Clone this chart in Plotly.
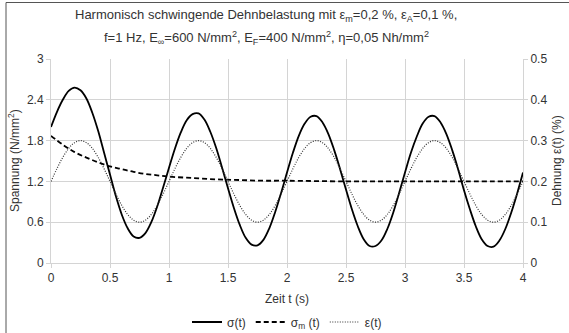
import plotly.graph_objects as go

# time axis (s), 0.05 s steps
t = [round(i * 0.05, 2) for i in range(81)]

# sigma(t) in N/mm^2
sigma = [2.00, 2.22, 2.40, 2.53, 2.58, 2.54, 2.42, 2.21, 1.94, 1.62,
         1.30, 0.98, 0.71, 0.51, 0.39, 0.37, 0.44, 0.60, 0.83, 1.11,
         1.40, 1.68, 1.92, 2.10, 2.19, 2.20, 2.11, 1.93, 1.69, 1.40,
         1.10, 0.81, 0.56, 0.37, 0.27, 0.26, 0.34, 0.51, 0.75, 1.03,
         1.33, 1.62, 1.87, 2.05, 2.15, 2.16, 2.07, 1.90, 1.66, 1.38,
         1.08, 0.79, 0.54, 0.35, 0.25, 0.25, 0.33, 0.50, 0.74, 1.03,
         1.33, 1.62, 1.86, 2.05, 2.15, 2.16, 2.07, 1.90, 1.66, 1.38,
         1.07, 0.79, 0.54, 0.35, 0.25, 0.24, 0.33, 0.50, 0.74, 1.02,
         1.33]

# sigma_m(t) in N/mm^2
t_m = [0.0, 0.1, 0.2, 0.3, 0.4, 0.5, 0.6, 0.7, 0.8, 0.9, 1.0,
       1.2, 1.4, 1.6, 1.8, 2.0, 2.5, 3.0, 3.5, 4.0]
sigma_m = [1.87, 1.74, 1.63, 1.55, 1.48, 1.42, 1.38, 1.34, 1.31, 1.29, 1.27,
           1.25, 1.23, 1.22, 1.21, 1.21, 1.20, 1.20, 1.20, 1.20]

# strain eps(t) in % (right axis)
eps = [0.200, 0.231, 0.259, 0.281, 0.295, 0.300, 0.295, 0.281, 0.259, 0.231,
       0.200, 0.169, 0.141, 0.119, 0.105, 0.100, 0.105, 0.119, 0.141, 0.169,
       0.200, 0.231, 0.259, 0.281, 0.295, 0.300, 0.295, 0.281, 0.259, 0.231,
       0.200, 0.169, 0.141, 0.119, 0.105, 0.100, 0.105, 0.119, 0.141, 0.169,
       0.200, 0.231, 0.259, 0.281, 0.295, 0.300, 0.295, 0.281, 0.259, 0.231,
       0.200, 0.169, 0.141, 0.119, 0.105, 0.100, 0.105, 0.119, 0.141, 0.169,
       0.200, 0.231, 0.259, 0.281, 0.295, 0.300, 0.295, 0.281, 0.259, 0.231,
       0.200, 0.169, 0.141, 0.119, 0.105, 0.100, 0.105, 0.119, 0.141, 0.169,
       0.200]

x_ticks = [0, 0.5, 1, 1.5, 2, 2.5, 3, 3.5, 4]
x_ticklabels = ["0", "0.5", "1", "1.5", "2", "2.5", "3", "3.5", "4"]
y_ticks = [0, 0.6, 1.2, 1.8, 2.4, 3]
y_ticklabels = ["0", "0.6", "1.2", "1.8", "2.4", "3"]
y2_ticks = [0, 0.1, 0.2, 0.3, 0.4, 0.5]
y2_ticklabels = ["0", "0.1", "0.2", "0.3", "0.4", "0.5"]

FONT = "Liberation Sans, Arial, sans-serif"
TXT = "#333333"
GRID = "#d4d4d4"

fig = go.Figure()
fig.add_trace(go.Scatter(x=t, y=sigma, name="σ(t)", mode="lines",
                         line=dict(color="black", width=1.8, shape="spline")))
fig.add_trace(go.Scatter(x=t_m, y=sigma_m, name="σ<sub>m</sub> (t)", mode="lines",
                         line=dict(color="black", width=1.8, dash="5px,3px", shape="spline")))
fig.add_trace(go.Scatter(x=t, y=eps, name="ε(t)", mode="lines", yaxis="y2",
                         line=dict(color="#333333", width=1.2, dash="1px,1.5px", shape="spline")))

W, H = 569, 333
L, R, T, B = 51, 46, 59, 70
pw, ph = W - L - R, H - T - B

def px(x):
    return (x - L) / pw

def py(y):
    return (H - B - y) / ph

fig.update_layout(
    width=W, height=H,
    margin=dict(l=L, r=R, t=T, b=B, autoexpand=False),
    paper_bgcolor="white", plot_bgcolor="white",
    font=dict(family=FONT, size=12, color=TXT),
    showlegend=True,
    legend=dict(orientation="h", x=0.5, xanchor="center",
                yref="container", y=1 - 322 / H, yanchor="middle",
                font=dict(size=12, color=TXT), itemwidth=30, tracegroupgap=0),
    xaxis=dict(range=[0, 4], tickvals=x_ticks, ticktext=x_ticklabels,
               showgrid=True, gridcolor=GRID, gridwidth=1,
               showline=True, linecolor=GRID, mirror=False,
               ticks="outside", ticklen=4, tickcolor=GRID,
               zeroline=False, tickfont=dict(size=12, color=TXT)),
    yaxis=dict(range=[0, 3], tickvals=y_ticks, ticktext=y_ticklabels,
               showgrid=True, gridcolor=GRID, gridwidth=1,
               showline=True, linecolor=GRID,
               ticks="outside", ticklen=4, tickcolor=GRID,
               zeroline=False, tickfont=dict(size=12, color=TXT)),
    yaxis2=dict(range=[0, 0.5], tickvals=y2_ticks, ticktext=y2_ticklabels,
                overlaying="y", side="right", showgrid=False,
                showline=True, linecolor=GRID,
                ticks="outside", ticklen=4, tickcolor=GRID,
                zeroline=False, tickfont=dict(size=12, color=TXT)),
)

annos = [
    dict(text="Harmonisch schwingende Dehnbelastung mit ε<sub>m</sub>=0,2 %, ε<sub>A</sub>=0,1 %,",
         x=px(266), y=py(15), font=dict(size=13, color=TXT)),
    dict(text="f=1 Hz, E<sub>∞</sub>=600 N/mm<sup>2</sup>, E<sub>F</sub>=400 N/mm<sup>2</sup>, η=0,05 Nh/mm<sup>2</sup>",
         x=px(266), y=py(38), font=dict(size=13, color=TXT)),
    dict(text="Zeit t (s)", x=px(287), y=py(299), font=dict(size=12, color=TXT)),
    dict(text="Spannung (N/mm<sup>2</sup>)", x=px(14), y=0.5, textangle=-90,
         font=dict(size=12, color=TXT)),
    dict(text="Dehnung ε(t) (%)", x=px(557), y=0.5, textangle=-90,
         font=dict(size=12, color=TXT)),
]
for a in annos:
    fig.add_annotation(xref="paper", yref="paper", showarrow=False,
                       xanchor="center", yanchor="middle", **a)

# outer chart frame
fig.add_shape(type="rect", xref="paper", yref="paper",
              x0=px(6), x1=px(575), y0=py(340), y1=py(2.5),
              line=dict(color="#555555", width=1), layer="below")

fig.write_html("out.html", config={"displayModeBar": False},
               post_script="document.body.style.margin='0';document.body.style.padding='0';")
